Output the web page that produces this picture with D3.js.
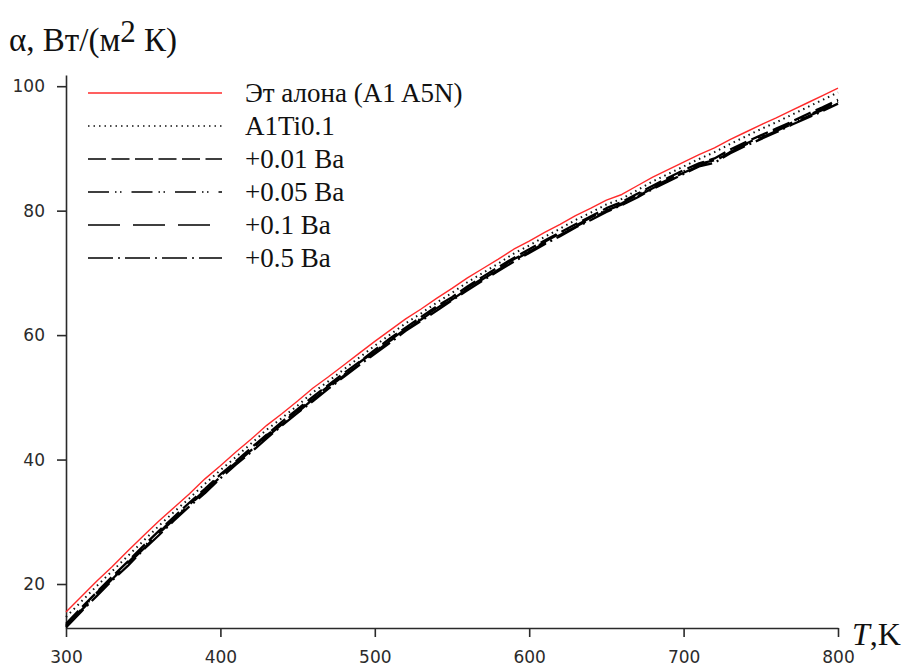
<!DOCTYPE html>
<html>
<head>
<meta charset="utf-8">
<script src="https://cdn.jsdelivr.net/npm/d3@7/dist/d3.min.js"></script>
<style>
  html, body { margin: 0; padding: 0; background: #fff; }
  svg { display: block; }
</style>
</head>
<body>
<svg id="chart" width="905" height="667"></svg>
<script>
// Temperature grid, K
const temperature = [300, 310, 320, 330, 340, 350, 360, 370, 380, 390,
  400, 410, 420, 430, 440, 450, 460, 470, 480, 490,
  500, 510, 520, 530, 540, 550, 560, 570, 580, 590,
  600, 610, 620, 630, 640, 650, 660, 670, 680, 690,
  700, 710, 720, 730, 740, 750, 760, 770, 780, 790, 800];

// Heat-transfer coefficient α, W/(m²·K), one array per alloy
const etalon = [15.5, 18.0, 20.5, 22.8, 25.3, 27.7, 30.1, 32.3, 34.5, 36.9,
  39.0, 41.2, 43.3, 45.5, 47.4, 49.4, 51.5, 53.3, 55.2, 57.1,
  59.0, 60.8, 62.6, 64.2, 65.9, 67.5, 69.2, 70.7, 72.2, 73.8,
  75.1, 76.5, 77.8, 79.2, 80.4, 81.7, 82.6, 84.0, 85.4, 86.6,
  87.8, 89.0, 90.1, 91.4, 92.6, 93.8, 94.9, 96.1, 97.3, 98.5, 99.7];

const alTi01 = [14.7, 17.2, 19.7, 22.1, 24.5, 26.9, 29.3, 31.6, 33.8, 36.1,
  38.3, 40.4, 42.6, 44.8, 46.7, 48.7, 50.8, 52.6, 54.5, 56.4,
  58.3, 60.1, 61.9, 63.5, 65.2, 66.8, 68.5, 70.0, 71.5, 73.1,
  74.4, 75.8, 77.1, 78.5, 79.7, 81.0, 81.9, 83.3, 84.7, 85.9,
  87.1, 88.3, 89.4, 90.7, 91.9, 93.1, 94.2, 95.4, 96.6, 97.8, 99.0];

const ba001 = [13.6, 16.2, 18.7, 21.2, 23.6, 26.1, 28.5, 30.8, 33.1, 35.3,
  37.6, 39.7, 41.9, 44.0, 46.1, 48.1, 50.1, 52.0, 53.9, 55.7,
  57.6, 59.5, 61.2, 62.9, 64.6, 66.1, 67.8, 69.4, 70.9, 72.4,
  73.8, 75.2, 76.5, 77.8, 79.1, 80.4, 81.4, 82.7, 84.0, 85.3,
  86.5, 87.6, 88.4, 89.8, 91.0, 92.1, 93.2, 94.3, 95.5, 96.6, 97.8];

const ba005 = [13.4, 15.9, 18.6, 20.9, 23.4, 25.9, 28.2, 30.7, 32.8, 35.1,
  37.4, 39.5, 41.6, 43.9, 45.8, 47.9, 49.8, 51.8, 53.6, 55.6,
  57.4, 59.2, 61.0, 62.7, 64.3, 65.9, 67.6, 69.1, 70.7, 72.2,
  73.5, 75.0, 76.3, 77.6, 78.9, 80.1, 81.2, 82.5, 83.8, 85.0,
  86.3, 87.5, 88.1, 89.6, 90.7, 91.9, 93.0, 94.1, 95.2, 96.4, 97.5];

const ba01 = [13.2, 15.8, 18.3, 20.8, 23.2, 25.6, 28.1, 30.4, 32.7, 34.9,
  37.2, 39.3, 41.5, 43.6, 45.7, 47.6, 49.7, 51.6, 53.5, 55.3,
  57.2, 59.1, 60.8, 62.5, 64.2, 65.7, 67.4, 69.0, 70.5, 72.0,
  73.4, 74.8, 76.1, 77.4, 78.7, 80.0, 81.0, 82.3, 83.6, 84.9,
  86.1, 87.2, 87.9, 89.4, 90.6, 91.7, 92.8, 93.9, 95.1, 96.2, 97.4];

const ba05 = [13.0, 15.6, 18.1, 20.6, 22.9, 25.5, 27.8, 30.2, 32.5, 34.6,
  37.0, 39.2, 41.2, 43.4, 45.5, 47.5, 49.4, 51.4, 53.3, 55.2,
  57.0, 58.8, 60.7, 62.3, 63.9, 65.6, 67.2, 68.8, 70.3, 71.8,
  73.2, 74.6, 75.9, 77.3, 78.5, 79.8, 80.9, 82.1, 83.5, 84.7,
  85.9, 87.1, 87.7, 89.2, 90.4, 91.5, 92.6, 93.8, 94.9, 96.0, 97.2];

const seriesNames = ["Эт алона (A1 A5N)", "A1Ti0.1", "+0.01 Ba", "+0.05 Ba", "+0.1 Ba", "+0.5 Ba"];
const seriesValues = [etalon, alTi01, ba001, ba005, ba01, ba05];

const xTicks = [300, 400, 500, 600, 700, 800];
const yTicks = [20, 40, 60, 80, 100];

// Line styles per series
const styles = [
  { color: "#ff2b2b", width: 1.4, dash: null },
  { color: "#111", width: 2, dash: "1.5,4" },
  { color: "#000", width: 2.3, dash: "18,5.5" },
  { color: "#000", width: 2.3, dash: "21,6,1.5,3.5,1.5,10" },
  { color: "#000", width: 2.3, dash: "32,13" },
  { color: "#000", width: 2.3, dash: "25,5,2,5" }
];

const svg = d3.select("#chart");

const x = d3.scaleLinear().domain([300, 800]).range([66, 838]);
const y = d3.scaleLinear().domain([12.93, 101.8]).range([628, 75]);

const axisColor = "#2a2a2a";
const tickFont = "DejaVu Sans, sans-serif";
const serif = "Liberation Serif, Times New Roman, serif";

// Y axis
const yAxis = svg.append("g")
  .attr("transform", `translate(${x(300)},0)`)
  .call(d3.axisLeft(y).tickValues(yTicks).tickSize(9).tickSizeOuter(0).tickPadding(12));
yAxis.select(".domain").attr("stroke", axisColor).attr("stroke-width", 1.6);
yAxis.selectAll(".tick line").attr("stroke", axisColor).attr("stroke-width", 1.6);
yAxis.selectAll(".tick text")
  .attr("font-family", tickFont)
  .attr("font-size", 17)
  .attr("fill", "#2b2b2b");

// X axis
const xAxis = svg.append("g")
  .attr("transform", `translate(0,${y(12.93)})`)
  .call(d3.axisBottom(x).tickValues(xTicks).tickSize(9).tickSizeOuter(0).tickPadding(14));
xAxis.select(".domain").attr("stroke", axisColor).attr("stroke-width", 1.6);
xAxis.selectAll(".tick line").attr("stroke", axisColor).attr("stroke-width", 1.6);
xAxis.selectAll(".tick text")
  .attr("font-family", tickFont)
  .attr("font-size", 17)
  .attr("fill", "#2b2b2b");

// Data curves (black ones first, reference alloy on top)
const line = d3.line()
  .x((d, i) => x(temperature[i]))
  .y(d => y(d));

const drawOrder = [5, 4, 3, 2, 1, 0];
drawOrder.forEach(k => {
  const s = styles[k];
  svg.append("path")
    .datum(seriesValues[k])
    .attr("d", line)
    .attr("fill", "none")
    .attr("stroke", s.color)
    .attr("stroke-width", s.width)
    .attr("stroke-dasharray", s.dash)
    .attr("stroke-linejoin", "round");
});

// Legend
const legendY = [93, 126, 159, 192, 225, 258];
const legend = svg.append("g");
seriesNames.forEach((name, k) => {
  const s = styles[k];
  legend.append("line")
    .attr("x1", 88).attr("x2", 222)
    .attr("y1", legendY[k]).attr("y2", legendY[k])
    .attr("stroke", s.color)
    .attr("stroke-width", k === 0 ? 1.6 : 1.7)
    .attr("stroke-dasharray", s.dash);
  legend.append("text")
    .attr("x", 245)
    .attr("y", legendY[k] + 9)
    .attr("font-family", serif)
    .attr("font-size", 27)
    .attr("fill", "#111")
    .text(name);
});

// Axis titles
const yTitle = svg.append("text")
  .attr("x", 9).attr("y", 51)
  .attr("font-family", serif)
  .attr("font-size", 33)
  .attr("fill", "#111");
yTitle.append("tspan").text("α, Вт/(м");
yTitle.append("tspan").attr("dy", -9).attr("font-size", 31).text("2");
yTitle.append("tspan").attr("dy", 9).text(" К)");

const xTitle = svg.append("text")
  .attr("x", 852).attr("y", 645)
  .attr("font-family", serif)
  .attr("font-size", 32)
  .attr("fill", "#111");
xTitle.append("tspan").attr("font-style", "italic").text("T");
xTitle.append("tspan").text(",K");
</script>
</body>
</html>
